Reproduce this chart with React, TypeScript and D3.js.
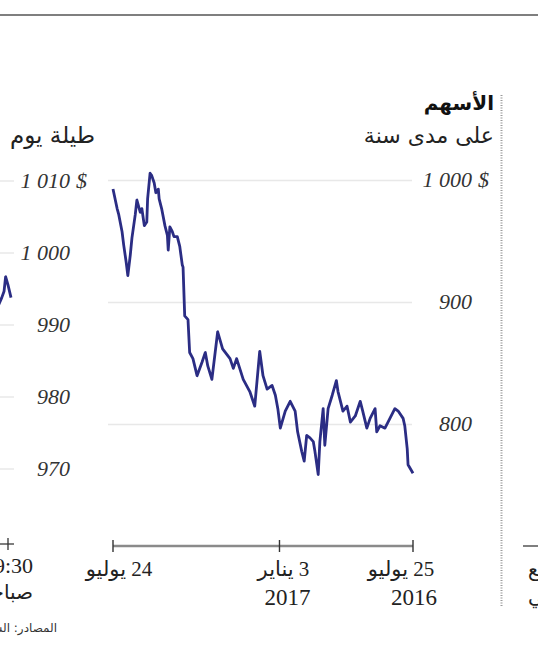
import * as d3 from 'd3';

// one year of closes, days counted from 25 July 2016
const yearDays = [0, 6, 7, 10, 12, 18, 22, 28, 34, 40, 44, 46, 52, 56, 61, 64, 70, 76, 80, 85,
  91, 93, 98, 103, 107, 109, 113, 115, 119, 121, 125, 129, 132, 135, 140, 143, 149, 155, 161, 164,
  167, 171, 177, 182, 186, 192, 198, 206, 214, 218, 222, 231, 237, 244, 249, 252, 256, 262, 267, 271,
  273, 277, 279, 280, 283, 286, 290, 292, 295, 297, 298, 301, 305, 308, 309, 312, 314, 317, 319, 322,
  323, 326, 329, 331, 335, 337, 341, 343, 346, 348, 351, 353, 357, 359, 364];
const yearPrices = [760, 767, 780, 799, 805, 811, 813, 805, 797, 799, 794, 813, 805, 797, 811, 819, 807, 802, 815, 811,
  827, 836, 824, 813, 783, 813, 786, 759, 778, 786, 789, 791, 770, 778, 794, 811, 819, 811, 797, 813,
  824, 832, 829, 840, 860, 815, 827, 837, 854, 846, 854, 862, 876, 837, 848, 859, 851, 840, 854, 859,
  886, 889, 929, 931, 946, 954, 954, 958, 962, 943, 955, 963, 977, 985, 993, 990, 998, 1004, 1006, 985,
  966, 963, 977, 974, 984, 972, 953, 939, 922, 933, 947, 958, 972, 977, 993];

const yearTicks = [800, 900, 1000];
const dateTicks = ['2016-07-25', '2017-01-03', '2017-07-24'];
const dateLabels = ['25 يوليو', '3 يناير', '24 يوليو'];
const yearLabels = ['2016', '2017', ''];

// intraday (minutes after 9:30), only the start shows in this crop
const dayMinutes = [0, 4, 7, 9, 12, 16, 21, 26];
const dayPrices = [993.8, 995.6, 996.7, 994.7, 993.8, 992.8, 993.5, 994.2];
const dayTicks = [970, 980, 990, 1000, 1010];

const fmt = d3.formatLocale({ decimal: ',', thousands: ' ', grouping: [3], currency: ['', ''] }).format(',');
const parse = d3.timeParse('%Y-%m-%d');

const NAVY = '#2b2d84';
const serif = '"Liberation Serif", "DejaVu Sans", serif';
const arabic = '"DejaVu Sans", sans-serif';

export default function App() {
  const start = parse('2016-07-25')!;
  const end = parse('2017-07-24')!;

  const x = d3.scaleTime().domain([start, end]).range([413, 113]);
  const y = d3.scaleLinear().domain([800, 1000]).range([424.5, 180.5]);

  const line = d3.line<number>()
    .x((_, i) => x(d3.timeDay.offset(start, yearDays[i])))
    .y(d => y(d));

  const xd = d3.scaleLinear().domain([0, 390]).range([11, -289]);
  const yd = d3.scaleLinear().domain([970, 1010]).range([469, 181]);
  const dayLine = d3.line<number>()
    .x((_, i) => xd(dayMinutes[i]))
    .y(d => yd(d));

  const nudge = [-12, 4, 6];
  const yearNudge = [1, 8, 0];
  const axisY = 546;

  return (
    <>
      <style>{`body{margin:0;background:#fff}`}</style>
      <svg width={538} height={655} style={{ display: 'block' }}>
        <rect width={538} height={655} fill="#fff" />
        <line x1={0} x2={538} y1={15} y2={15} stroke="#555" strokeWidth={1.6} />

        {/* intraday panel (cut off on the left) */}
        <text x={95} y={143} direction="rtl" textAnchor="start" fontFamily={arabic} fontSize={23} fill="#222">طيلة يوم</text>
        {dayTicks.map(t => (
          <g key={t}>
            <line x1={-300} x2={14} y1={yd(t)} y2={yd(t)} stroke="#e8e8e8" strokeWidth={1.5} />
            <text x={70} y={yd(t)} dy="0.33em" textAnchor="end" fontFamily={serif} fontStyle="italic" fontSize={22} fill="#333">{fmt(t)}</text>
            {t === 1010 && <text x={76} y={yd(t)} dy="0.33em" fontFamily={serif} fontStyle="italic" fontSize={22} fill="#333">$</text>}
          </g>
        ))}
        <path d={dayLine(dayPrices) ?? ''} fill="none" stroke={NAVY} strokeWidth={2.8} strokeLinejoin="round" />
        <line x1={-300} x2={14} y1={axisY - 2} y2={axisY - 2} stroke="#555" strokeWidth={1.3} />
        <line x1={xd(0) - 3} x2={xd(0) - 3} y1={axisY - 8} y2={axisY + 4} stroke="#333" strokeWidth={1.3} />
        <text x={33} y={573} direction="ltr" textAnchor="end" fontFamily={serif} fontSize={22} fill="#222">9:30</text>
        <text x={33} y={599} direction="rtl" textAnchor="start" fontFamily={arabic} fontSize={20} fill="#222">صباحا</text>
        <text x={57} y={632} direction="rtl" textAnchor="start" fontFamily={arabic} fontSize={12} fill="#333">المصادر: الشركة</text>

        {/* one-year panel */}
        <text x={494} y={110} direction="rtl" textAnchor="start" fontFamily={arabic} fontWeight="bold" fontSize={20} fill="#111">الأسهم</text>
        <text x={494} y={143} direction="rtl" textAnchor="start" fontFamily={arabic} fontSize={22} fill="#222">على مدى سنة</text>
        {yearTicks.map(t => (
          <g key={t}>
            <line x1={108} x2={412} y1={y(t)} y2={y(t)} stroke="#e8e8e8" strokeWidth={1.5} />
            <text x={472} y={y(t)} dy="0.3em" textAnchor="end" fontFamily={serif} fontStyle="italic" fontSize={22} fill="#333">{fmt(t)}</text>
            {t === 1000 && <text x={478} y={y(t)} dy="0.3em" fontFamily={serif} fontStyle="italic" fontSize={22} fill="#333">$</text>}
          </g>
        ))}
        <path d={line(yearPrices) ?? ''} fill="none" stroke={NAVY} strokeWidth={2.8} strokeLinejoin="round" />

        <line x1={x(start)} x2={x(end)} y1={axisY} y2={axisY} stroke="#8a8a8a" strokeWidth={2.6} />
        {dateTicks.map((d, i) => {
          const tx = x(parse(d)!);
          return (
            <g key={d}>
              <line x1={tx} x2={tx} y1={axisY - 6} y2={axisY + 6} stroke="#333" strokeWidth={1.4} />
              <text x={tx + nudge[i]} y={576} direction="rtl" textAnchor="middle" fontFamily={serif} fontSize={21} fill="#222">{dateLabels[i]}</text>
              {yearLabels[i] && <text x={tx + yearNudge[i]} y={605} textAnchor="middle" fontFamily={serif} fontSize={23} fill="#222">{yearLabels[i]}</text>}
            </g>
          );
        })}

        <line x1={501.5} x2={501.5} y1={95} y2={607} stroke="#9a9a9a" strokeWidth={2} strokeDasharray="1,1.5" />

        {/* next panel, cut off on the right */}
        <line x1={523} x2={560} y1={axisY} y2={axisY} stroke="#555" strokeWidth={1.4} />
        <text x={528} y={576} direction="rtl" textAnchor="end" fontFamily={arabic} fontSize={20} fill="#222">الربع</text>
        <text x={528} y={603} direction="rtl" textAnchor="end" fontFamily={arabic} fontSize={20} fill="#222">الثاني</text>
      </svg>
    </>
  );
}
